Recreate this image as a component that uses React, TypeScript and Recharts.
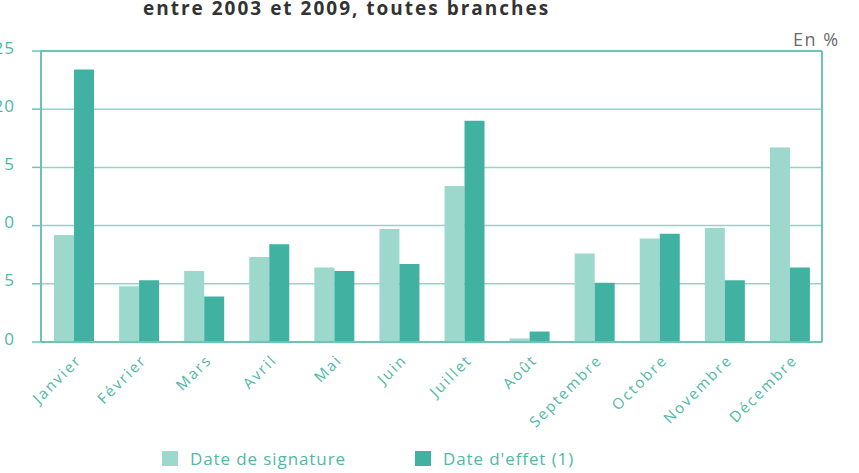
import React from 'react';
import { BarChart, Bar, XAxis, YAxis, CartesianGrid, Legend, ReferenceLine } from 'recharts';

const months = ['Janvier', 'Février', 'Mars', 'Avril', 'Mai', 'Juin', 'Juillet', 'Août', 'Septembre', 'Octobre', 'Novembre', 'Décembre'];
const signature = [9.2, 4.8, 6.1, 7.3, 6.4, 9.7, 13.4, 0.3, 7.6, 8.9, 9.8, 16.7];
const effet = [23.4, 5.3, 3.9, 8.4, 6.1, 6.7, 19.0, 0.9, 5.1, 9.3, 5.3, 6.4];
const yTicks = [0, 5, 10, 15, 20, 25];
const boundaries = [0, 1, 2, 3, 4, 5, 6, 7, 8, 9, 10, 11, 12];
const seriesNames = ['Date de signature', "Date d'effet (1)"];
const title = 'entre 2003 et 2009, toutes branches';
const unit = 'En %';

const data = months.map((m, i) => ({ month: m, signature: signature[i], effet: effet[i] }));

const LIGHT = '#9dd8cc';
const DARK = '#41b2a1';
const TEXT = '#4fb8a6';
const GRID = '#93d4c8';
const AXIS = '#6cc4b4';
const FONT = '"Open Sans", sans-serif';

const YTick = (props: any) => {
  const { x, y, payload } = props;
  return (
    <text x={x} y={y} dy={-4} textAnchor="end" dominantBaseline="central" fill={TEXT} fontSize={17} fontFamily={FONT} style={{ letterSpacing: '1px' }}>
      {payload.value}
    </text>
  );
};

const XTick = (props: any) => {
  const { x, y, payload } = props;
  const tx = x + 9;
  const ty = y + 11;
  return (
    <text x={tx} y={ty} textAnchor="end" transform={`rotate(-45 ${tx} ${ty})`} fill={TEXT} fontSize={15} fontFamily={FONT} style={{ letterSpacing: '2px' }}>
      {payload.value}
    </text>
  );
};

const LegendContent = () => {
  const colors = [LIGHT, DARK];
  const lefts = [162, 415];
  return (
    <div style={{ position: 'relative', height: 27, width: 859 }}>
      {seriesNames.map((n, i) => (
        <div key={n} style={{ position: 'absolute', left: lefts[i], top: 6, display: 'flex', alignItems: 'center', height: 15 }}>
          <div style={{ width: 16, height: 15, background: colors[i] }} />
          <span style={{ marginLeft: 12, fontFamily: FONT, fontSize: 17, color: TEXT, letterSpacing: '0.9px', whiteSpace: 'nowrap', lineHeight: '15px' }}>{n}</span>
        </div>
      ))}
    </div>
  );
};

export default function App() {
  return (
    <div style={{ position: 'absolute', left: 0, top: 0, width: 859, height: 473, background: '#fff', overflow: 'hidden' }}>
      <div style={{ position: 'absolute', left: 143, top: -1, fontFamily: FONT, fontWeight: 700, fontSize: 19, lineHeight: '18px', color: '#333', letterSpacing: '2px', whiteSpace: 'nowrap' }}>
        {title}
      </div>
      <div style={{ position: 'absolute', left: 793, top: 30, fontFamily: FONT, fontSize: 18, lineHeight: '18px', color: '#6b6b6b', letterSpacing: '1.5px', whiteSpace: 'nowrap' }}>
        {unit}
      </div>
      <BarChart width={859} height={473} data={data} margin={{ top: 51, right: 36, left: 0, bottom: 1 }} barCategoryGap="20%" barGap={0}>
        <CartesianGrid horizontal vertical={false} stroke={GRID} strokeWidth={1.5} />
        <XAxis xAxisId="b" type="number" domain={[0, 12]} ticks={boundaries} height={1} tick={false} axisLine={false} tickLine={{ stroke: AXIS, strokeWidth: 1.5 }} tickSize={5} allowDataOverflow />
        <XAxis dataKey="month" interval={0} height={102} tickLine={false} axisLine={{ stroke: AXIS, strokeWidth: 2 }} tick={<XTick />} />
        <YAxis domain={[0, 25]} ticks={yTicks} width={41} tickSize={9} tickMargin={17} axisLine={{ stroke: AXIS, strokeWidth: 2 }} tickLine={{ stroke: AXIS, strokeWidth: 1.5 }} tick={<YTick />} />
        <YAxis yAxisId="r" orientation="right" domain={[0, 25]} width={1} tick={false} tickLine={false} axisLine={{ stroke: AXIS, strokeWidth: 2 }} />
        <ReferenceLine y={25} stroke={AXIS} strokeWidth={2} />
        <Legend verticalAlign="bottom" align="left" content={<LegendContent />} />
        <Bar dataKey="signature" name={seriesNames[0]} fill={LIGHT} isAnimationActive={false} />
        <Bar dataKey="effet" name={seriesNames[1]} fill={DARK} isAnimationActive={false} />
      </BarChart>
    </div>
  );
}
